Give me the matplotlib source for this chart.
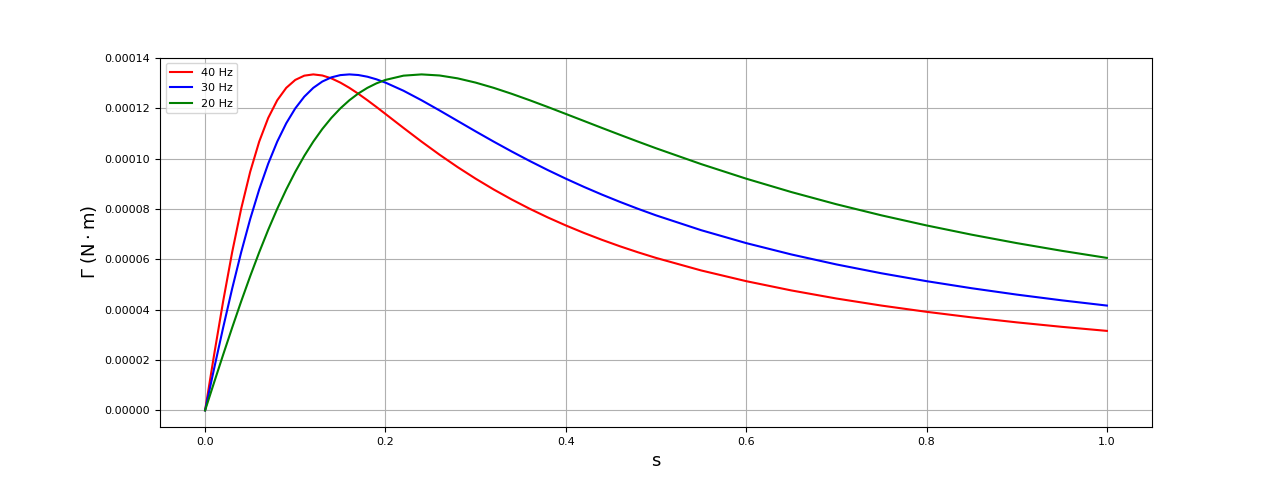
import numpy as np
import matplotlib
matplotlib.use("Agg")
import matplotlib.pyplot as plt

# slip values and torque (in 1e-5 N*m)
s = [0.0, 0.01, 0.02, 0.03, 0.04, 0.05, 0.06, 0.07, 0.08, 0.09, 0.10,
     0.11, 0.12, 0.13, 0.14, 0.15, 0.16, 0.17, 0.18, 0.19, 0.20,
     0.22, 0.24, 0.26, 0.28, 0.30, 0.32, 0.34, 0.36, 0.38, 0.40,
     0.42, 0.44, 0.46, 0.48, 0.50,
     0.55, 0.60, 0.65, 0.70, 0.75, 0.80, 0.85, 0.90, 0.95, 1.00]

torque_40 = [0.0, 2.210, 4.330, 6.282, 8.010, 9.479, 10.680, 11.621, 12.323,
             12.816, 13.131, 13.300, 13.350, 13.307, 13.193, 13.024, 12.816,
             12.579, 12.323, 12.055, 11.779,
             11.224, 10.680, 10.159, 9.667, 9.207, 8.778, 8.380, 8.010, 7.667,
             7.349, 7.053, 6.778, 6.521, 6.282, 6.059,
             5.561, 5.135, 4.767, 4.446, 4.165, 3.917, 3.696, 3.498, 3.320,
             3.159]
torque_30 = [0.0, 1.662, 3.286, 4.836, 6.282, 7.601, 8.778, 9.804, 10.680,
             11.409, 12.000, 12.465, 12.816, 13.067, 13.232, 13.322, 13.350,
             13.325, 13.258, 13.155, 13.024,
             12.701, 12.323, 11.918, 11.502, 11.086, 10.680, 10.287, 9.909,
             9.549, 9.207, 8.882, 8.575, 8.285, 8.010, 7.750,
             7.161, 6.647, 6.197, 5.800, 5.448, 5.135, 4.854, 4.601, 4.373,
             4.165]
torque_20 = [0.0, 1.111, 2.210, 3.286, 4.330, 5.331, 6.282, 7.177, 8.010,
             8.778, 9.479, 10.113, 10.680, 11.182, 11.621, 12.000, 12.323,
             12.594, 12.816, 12.994, 13.131,
             13.300, 13.350, 13.307, 13.193, 13.024, 12.816, 12.579, 12.323,
             12.055, 11.779, 11.502, 11.224, 10.950, 10.680, 10.416,
             9.787, 9.207, 8.676, 8.191, 7.750, 7.349, 6.982, 6.647, 6.341,
             6.059]

labels = ["40 Hz", "30 Hz", "20 Hz"]
colors = ["red", "blue", "green"]

fig, ax = plt.subplots(figsize=(12.8, 4.8), dpi=100)
for vals, lab, col in zip([torque_40, torque_30, torque_20], labels, colors):
    ax.plot(s, np.array(vals) * 1e-5, color=col, label=lab)

ax.set_xlabel("s", fontsize=13)
ax.set_ylabel(r"$\Gamma\ (\mathrm{N} \cdot \mathrm{m})$", fontsize=13)
ax.set_yticks(np.arange(0, 0.000141, 0.00002))
ax.tick_params(labelsize=8)
ax.grid(True)
ax.legend(loc="upper left", fontsize=8)

plt.savefig("out.png")
